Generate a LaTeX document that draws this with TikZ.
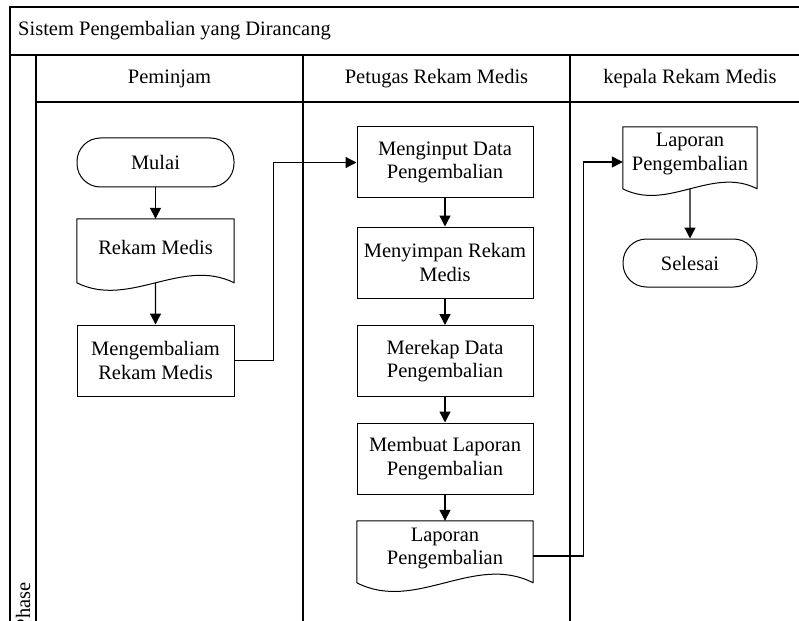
\documentclass[tikz,border=0pt]{standalone}
\usepackage{fontspec}
\setmainfont{Liberation Serif}
\usetikzlibrary{arrows.meta,calc}

% Outline of a "document" flowchart symbol around a named text node:
% #1 node name, #2 height of the straight sides, #3 depth of the wave
\newcommand\docoutline[3]{%
  \coordinate (#1-lb) at ($(#1.north west)+(0,#2)$);
  \coordinate (#1-rb) at ($(#1.north east)+(0,#2)$);
  \coordinate (#1-b) at ($(#1-lb)!0.5!(#1-rb)$);
  \draw[docline] (#1-lb) -- (#1.north west) -- (#1.north east) -- (#1-rb)
    .. controls ($(#1-lb)!0.6667!(#1-rb)+(0,-#3)$) and ($(#1-lb)!0.3333!(#1-rb)+(0,#3)$) .. cycle;
}

\begin{document}
\begin{tikzpicture}[x=1pt,y=-1pt,
  every node/.style={font=\fontsize{20.5}{23.5}\selectfont, inner sep=0pt},
  lane/.style={line width=1.4pt},
  proc/.style={draw, line width=1pt, minimum width=176pt, minimum height=71pt, align=center},
  term/.style={draw, line width=1pt, rounded corners=23.5pt, align=center},
  doctext/.style={align=center},
  docline/.style={line width=1pt, line join=round},
  flow/.style={line width=1.3pt, -{Triangle[length=11pt,width=11pt]}},
]
\useasboundingbox (0,0) rectangle (799,620);

% pool frame, title row, header row and lanes
\draw[lane] (10,660) -- (10,7) -- (830,7);
\draw[lane] (10,55) -- (830,55);
\draw[lane] (36,102) -- (830,102);
\draw[lane] (36,55) -- (36,660);
\draw[lane] (303,55) -- (303,660);
\draw[lane] (570,55) -- (570,660);

\node[anchor=west] (title) at (18,31) {Sistem Pengembalian yang Dirancang};
\node (h1) at (169.5,79) {Peminjam};
\node (h2) at (436.5,79) {Petugas Rekam Medis};
\node (h3) at (690,79) {kepala Rekam Medis};
\node[rotate=90, anchor=east] (phase) at (23,582) {Phase};

% Peminjam
\node[term, minimum width=157pt, minimum height=49pt] (mulai) at (155.5,162.5) {Mulai};
\node[doctext, minimum width=157pt, minimum height=56pt] (rm) at (155.5,247) {Rekam Medis};
\docoutline{rm}{64}{26}
\node[proc, minimum width=157pt] (kembali) at (155.5,360.5) {Mengembaliam\\Rekam Medis};

% Petugas Rekam Medis
\node[proc] (input) at (445,162.5) {Menginput Data\\Pengembalian};
\node[proc] (simpan) at (445,262.5) {Menyimpan Rekam\\Medis};
\node[proc] (rekap) at (445,361) {Merekap Data\\Pengembalian};
\node[proc] (buat) at (445,458.5) {Membuat Laporan\\Pengembalian};
\node[doctext, minimum width=176pt, minimum height=55pt] (lap1) at (445,548.5) {Laporan\\Pengembalian};
\docoutline{lap1}{62}{30}

% kepala Rekam Medis
\node[doctext, minimum width=134pt, minimum height=54pt] (lap2) at (690,154) {Laporan\\Pengembalian};
\docoutline{lap2}{62}{23}
\node[term, minimum width=134pt, minimum height=48pt] (selesai) at (690,263) {Selesai};

% connectors
\coordinate (lap1-out) at ([yshift=-7.5pt]lap1.east);
\coordinate (lap2-in) at ([yshift=-8pt]lap2.west);
\draw[flow] (mulai) -- (rm);
\draw[flow] (rm-b) -- (kembali.north);
\draw[flow] (kembali.east) -- ++(39,0) |- (input.west);
\draw[flow] (input) -- (simpan);
\draw[flow] (simpan) -- (rekap);
\draw[flow] (rekap) -- (buat);
\draw[flow] (buat) -- (lap1);
\draw[flow] (lap1-out) -- ++(50,0) |- (lap2-in);
\draw[flow] (lap2-b) -- (selesai);
\end{tikzpicture}
\end{document}
